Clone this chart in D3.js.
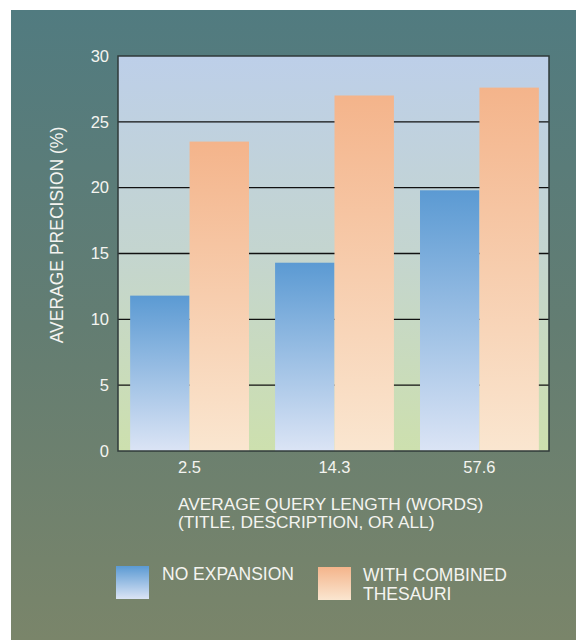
<!DOCTYPE html>
<html><head><meta charset="utf-8">
<script src="https://cdn.jsdelivr.net/npm/d3@7"></script>
<style>html,body{margin:0;padding:0;background:#fff;}svg{display:block;}</style>
</head><body>
<svg id="chart" width="576" height="640"></svg>
<script>
const categories = ["2.5", "14.3", "57.6"];
const seriesNames = ["NO EXPANSION", "WITH COMBINED THESAURI"];
const noExpansion = [11.8, 14.3, 19.8];
const combinedThesauri = [23.5, 27.0, 27.6];
const yTicks = [0, 5, 10, 15, 20, 25, 30];
const yLabel = "AVERAGE PRECISION (%)";
const xLabelLines = ["AVERAGE QUERY LENGTH (WORDS)", "(TITLE, DESCRIPTION, OR ALL)"];

const svg = d3.select("#chart");
const defs = svg.append("defs");
function grad(id, stops) {
  const g = defs.append("linearGradient").attr("id", id).attr("x1", 0).attr("y1", 0).attr("x2", 0).attr("y2", 1);
  stops.forEach(([o, c]) => g.append("stop").attr("offset", o).attr("stop-color", c));
}
grad("bg", [[0, "#517b80"], [0.5, "#637d72"], [1, "#7a856a"]]);
grad("plotbg", [[0, "#bdcfe9"], [0.5, "#c4d5cf"], [1, "#cde0ae"]]);
grad("blue", [[0, "#5b9ad3"], [1, "#dbe4f5"]]);
grad("orange", [[0, "#f4b48b"], [1, "#fae6d0"]]);

svg.append("rect").attr("x", 11).attr("y", 10).attr("width", 565).attr("height", 630).attr("fill", "url(#bg)");

const L = 118, R = 549, T = 56, B = 451;
const y = d3.scaleLinear().domain([0, 30]).range([B, T]);
const x = d3.scaleBand().domain(categories).range([L + 2, R]).paddingInner(0.18).paddingOuter(0.07);
const xs = d3.scaleBand().domain([0, 1]).range([0, x.bandwidth()]);

// plot background
svg.append("rect").attr("x", L).attr("y", T).attr("width", R - L).attr("height", B - T).attr("fill", "url(#plotbg)");

// gridlines
svg.append("g").selectAll("line").data(yTicks.filter(t => t > 0 && t < 30)).join("line")
  .attr("x1", L).attr("x2", R).attr("y1", d => y(d)).attr("y2", d => y(d))
  .attr("stroke", "#111").attr("stroke-width", 1.4);

// bars
const series = [noExpansion, combinedThesauri];
const fills = ["url(#blue)", "url(#orange)"];
series.forEach((vals, si) => {
  svg.append("g").selectAll("rect").data(vals).join("rect")
    .attr("x", (d, i) => x(categories[i]) + xs(si))
    .attr("y", d => y(d))
    .attr("width", xs.bandwidth())
    .attr("height", d => B - y(d))
    .attr("fill", fills[si]);
});

// frame
svg.append("rect").attr("x", L).attr("y", T).attr("width", R - L).attr("height", B - T)
  .attr("fill", "none").attr("stroke", "#2f3a3a").attr("stroke-width", 1.5);

const font = "Liberation Sans, Arial, sans-serif";
const txt = "#f4f4f0";

// y axis
const yAxis = d3.axisLeft(y).tickValues(yTicks).tickSize(0).tickPadding(9);
const gy = svg.append("g").attr("transform", `translate(${L},0)`).call(yAxis);
gy.select(".domain").remove();
gy.selectAll("text").attr("fill", txt).attr("font-family", font).attr("font-size", 16.5);

// x axis
const xAxis = d3.axisBottom(x).tickSize(0).tickPadding(10);
const gx = svg.append("g").attr("transform", `translate(0,${B})`).call(xAxis);
gx.select(".domain").remove();
gx.selectAll("text").attr("fill", txt).attr("font-family", font).attr("font-size", 16.5);

svg.append("text").attr("transform", "translate(63,235) rotate(-90)").attr("text-anchor", "middle")
  .attr("fill", txt).attr("font-family", font).attr("font-size", 17.5).text(yLabel);

xLabelLines.forEach((t, i) => {
  svg.append("text").attr("x", 178).attr("y", 510 + i * 18).attr("fill", txt)
    .attr("font-family", font).attr("font-size", 17.3).text(t);
});

// legend
const legend = [
  { sw: [116, 566], fill: fills[0], lines: ["NO EXPANSION"], tx: 162, ty: 580 },
  { sw: [318, 567], fill: fills[1], lines: ["WITH COMBINED", "THESAURI"], tx: 363, ty: 581 }
];
legend.forEach((l) => {
  svg.append("rect").attr("x", l.sw[0]).attr("y", l.sw[1]).attr("width", 33).attr("height", 33).attr("fill", l.fill);
  l.lines.forEach((t, j) => {
    svg.append("text").attr("x", l.tx).attr("y", l.ty + j * 18.5).attr("fill", txt)
      .attr("font-family", font).attr("font-size", 17.5).text(t);
  });
});
</script>
</body></html>
